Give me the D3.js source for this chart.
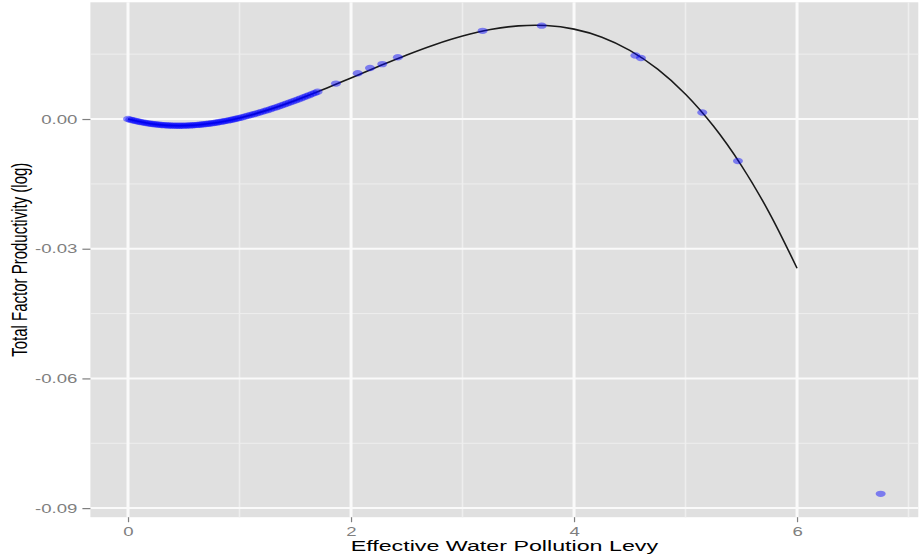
<!DOCTYPE html>
<html>
<head>
<meta charset="utf-8">
<script src="https://cdnjs.cloudflare.com/ajax/libs/d3/7.8.5/d3.min.js"></script>
<style>
  body { margin: 0; background: #ffffff; }
  text { font-family: "Liberation Sans", Arial, Helvetica, sans-serif; }
</style>
</head>
<body>
<div id="chart"></div>
<script>
//observed points (levy, log tfp)
var pointX = [0, 0.02, 0.04, 0.06, 0.08, 0.10, 0.12, 0.14, 0.16, 0.18, 0.20, 0.22, 0.24, 0.26, 0.28, 0.30,
    0.32, 0.34, 0.36, 0.38, 0.40, 0.42, 0.44, 0.46, 0.48, 0.50, 0.52, 0.54, 0.56, 0.58, 0.60, 0.62, 0.64,
    0.66, 0.68, 0.70, 0.72, 0.74, 0.76, 0.78, 0.80, 0.82, 0.84, 0.86, 0.88, 0.90, 0.92, 0.94, 0.96, 0.98,
    1.00, 1.025, 1.05, 1.075, 1.10, 1.125, 1.15, 1.175, 1.20, 1.225, 1.25, 1.275, 1.30, 1.325, 1.35,
    1.375, 1.40, 1.425, 1.45, 1.475, 1.50, 1.525, 1.55, 1.575, 1.60, 1.625, 1.65, 1.675, 1.70,
    1.865, 2.06, 2.17, 2.28, 2.42, 3.18, 3.71, 4.55, 4.60, 5.15, 5.47, 6.75];
var pointY = [0, -0.000138, -0.000270, -0.000394, -0.000512, -0.000623, -0.000727, -0.000825, -0.000916,
    -0.001000, -0.001079, -0.001151, -0.001216, -0.001276, -0.001329, -0.001376, -0.001417, -0.001453,
    -0.001482, -0.001506, -0.001524, -0.001536, -0.001543, -0.001544, -0.001540, -0.001530, -0.001516,
    -0.001495, -0.001470, -0.001440, -0.001404, -0.001364, -0.001319, -0.001268, -0.001214, -0.001154,
    -0.001090, -0.001021, -0.000948, -0.000870, -0.000788, -0.000702, -0.000611, -0.000517, -0.000418,
    -0.000315, -0.000208, -0.000098, 0.000017, 0.000135,
    0.000256, 0.000416, 0.000576, 0.000747, 0.000918, 0.001099, 0.001279, 0.001470, 0.001660, 0.001860,
    0.002060, 0.002268, 0.002476, 0.002692, 0.002908, 0.003132, 0.003356, 0.003587, 0.003817, 0.004054,
    0.004291, 0.004534, 0.004777, 0.005026, 0.005274, 0.005528, 0.005781, 0.006039, 0.006296,
    0.0082, 0.0106, 0.0118, 0.0127, 0.0143, 0.0204, 0.0216, 0.0147, 0.0141, 0.0015, -0.0097, -0.0867];

//fitted curve
var fitX = [0, 0.25, 0.5, 0.75, 1.0, 1.25, 1.5, 1.75, 2.0, 2.25, 2.5, 2.75, 3.0, 3.25, 3.5, 3.75,
    4.0, 4.25, 4.5, 4.75, 5.0, 5.25, 5.5, 5.75, 6.0];
var fitY = [0, -0.001247, -0.001530, -0.000985, 0.000256, 0.002060, 0.004291, 0.006818, 0.009506,
    0.012222, 0.014833, 0.017204, 0.019202, 0.020694, 0.021546, 0.021624, 0.020795, 0.018926, 0.015882,
    0.011530, 0.005738, -0.001630, -0.010707, -0.021625, -0.034520];

var xTicks = [0, 2, 4, 6];
var xTickLabels = ["0", "2", "4", "6"];
var xMinor = [1, 3, 5, 7];
var yTicks = [-0.09, -0.06, -0.03, 0];
var yTickLabels = ["-0.09", "-0.06", "-0.03", "0.00"];
var yMinor = [-0.075, -0.045, -0.015, 0.015];

var width = 919, height = 556;
var stretch = 1.55; //the picture is wider than it is tall, text too

var x = d3.scaleLinear().domain([-0.3375, 7.0875]).range([90.4, 918.3]);
var y = d3.scaleLinear().domain([-0.0921, 0.027]).range([517.2, 2.3]);

var svg = d3.select("#chart")
    .append("svg")
    .attr("width", width)
    .attr("height", height);

//panel background
svg.append("rect")
    .attr("x", x.range()[0])
    .attr("y", y.range()[1])
    .attr("width", x.range()[1] - x.range()[0])
    .attr("height", y.range()[0] - y.range()[1])
    .style("fill", "#e0e0e0");

//minor grid
svg.selectAll(".minor-x")
    .data(xMinor)
    .enter().append("line")
    .attr("x1", d => x(d)).attr("x2", d => x(d))
    .attr("y1", y.range()[0]).attr("y2", y.range()[1])
    .style("stroke", "#eeeeee")
    .style("stroke-width", 1.6);

svg.selectAll(".minor-y")
    .data(yMinor)
    .enter().append("line")
    .attr("y1", d => y(d)).attr("y2", d => y(d))
    .attr("x1", x.range()[0]).attr("x2", x.range()[1])
    .style("stroke", "#eeeeee")
    .style("stroke-width", 1);

//major grid
svg.selectAll(".major-x")
    .data(xTicks)
    .enter().append("line")
    .attr("x1", d => x(d)).attr("x2", d => x(d))
    .attr("y1", y.range()[0]).attr("y2", y.range()[1])
    .style("stroke", "#fafafa")
    .style("stroke-width", 3);

svg.selectAll(".major-y")
    .data(yTicks)
    .enter().append("line")
    .attr("y1", d => y(d)).attr("y2", d => y(d))
    .attr("x1", x.range()[0]).attr("x2", x.range()[1])
    .style("stroke", "#fafafa")
    .style("stroke-width", 2);

//fitted line
var line = d3.line()
    .x(d => x(d[0]))
    .y(d => y(d[1]))
    .curve(d3.curveCatmullRom);

svg.append("path")
    .datum(fitX.map((d, i) => [d, fitY[i]]))
    .attr("d", line)
    .style("fill", "none")
    .style("stroke", "#1a1a1a")
    .style("stroke-width", 1.6);

//points
svg.selectAll(".pt")
    .data(pointX.map((d, i) => [d, pointY[i]]))
    .enter().append("ellipse")
    .attr("class", "pt")
    .attr("cx", d => x(d[0]))
    .attr("cy", d => y(d[1]))
    .attr("rx", 5)
    .attr("ry", 3.2)
    .style("fill", "#0000ff")
    .style("fill-opacity", 0.45);

//axes
var xAxis = svg.append("g")
    .attr("transform", "translate(0," + y.range()[0] + ")")
    .call(d3.axisBottom(x).tickValues(xTicks).tickSize(5).tickFormat((d, i) => xTickLabels[i]));

var yAxis = svg.append("g")
    .attr("transform", "translate(" + x.range()[0] + ",0)")
    .call(d3.axisLeft(y).tickValues(yTicks).tickSize(8).tickFormat((d, i) => yTickLabels[i]));

svg.selectAll(".domain").remove();
svg.selectAll(".tick line").attr("stroke", "#7f7f7f").attr("stroke-width", 1.2);

xAxis.selectAll("text")
    .attr("x", 0).attr("y", 0).attr("dy", null)
    .attr("transform", "translate(0,19) scale(" + stretch + ",1)")
    .attr("fill", "#7f7f7f")
    .style("font-size", "12px");

yAxis.selectAll("text")
    .attr("x", 0).attr("dy", "0.35em")
    .attr("transform", "translate(-13,0) scale(" + stretch + ",1)")
    .attr("fill", "#7f7f7f")
    .style("font-size", "12px");

//axis titles
svg.append("text")
    .attr("text-anchor", "middle")
    .attr("transform", "translate(" + ((x.range()[0] + x.range()[1]) / 2) + ",551) scale(1.5,1)")
    .style("font-size", "15.5px")
    .style("fill", "#000000")
    .text("Effective Water Pollution Levy");

svg.append("text")
    .attr("text-anchor", "middle")
    .attr("transform", "translate(27," + ((y.range()[0] + y.range()[1]) / 2) + ") scale(1.5,1) rotate(-90)")
    .style("font-size", "15px")
    .style("fill", "#000000")
    .text("Total Factor Productivity (log)");
</script>
</body>
</html>
